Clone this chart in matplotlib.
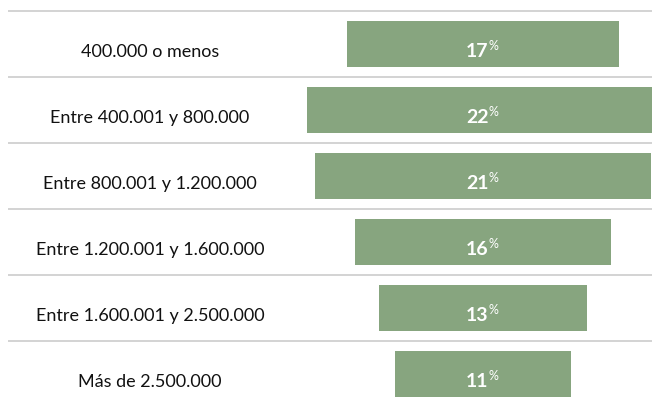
import matplotlib
matplotlib.use("Agg")
import matplotlib.pyplot as plt

# Data
categories = ["400.000 o menos", "Entre 400.001 y 800.000", "Entre 800.001 y 1.200.000",
              "Entre 1.200.001 y 1.600.000", "Entre 1.600.001 y 2.500.000", "Más de 2.500.000"]
values = [17, 22, 21, 16, 13, 11]

BAR_COLOR = "#87a57f"
LINE_COLOR = "#cccccc"
CENTER = 30.19      # bar centre, in % units
LABEL_X = 9.375

plt.rcParams['font.family'] = ['Lato', 'DejaVu Sans']

fig = plt.figure(figsize=(6.52, 4.02), dpi=100)
ax = fig.add_axes([0, 0, 1, 1])
ax.set_xlim(0, 40.75)
ax.set_ylim(5.409, -0.682)
ax.axis('off')

n = len(categories)
lefts = [CENTER - v / 2 for v in values]
ax.barh(range(n), values, left=lefts, height=0.697, color=BAR_COLOR, zorder=2)

for i, (cat, v) in enumerate(zip(categories, values)):
    ax.hlines(i - 0.5, 0.5, 40.75, color=LINE_COLOR, linewidth=1.2, zorder=1)
    ax.text(LABEL_X, i + 0.18, cat, ha='center', va='baseline', fontsize=13, color='#111111')
    ax.annotate(str(v), xy=(CENTER, i + 0.18), xytext=(4, 0), textcoords='offset points',
                ha='right', va='baseline', fontsize=14, fontweight='bold', color='white', zorder=3)
    ax.annotate('%', xy=(CENTER, i + 0.18), xytext=(3.6, 5), textcoords='offset points',
                ha='left', va='baseline', fontsize=9, color='white', zorder=3)

fig.savefig("out.png", dpi=100)
